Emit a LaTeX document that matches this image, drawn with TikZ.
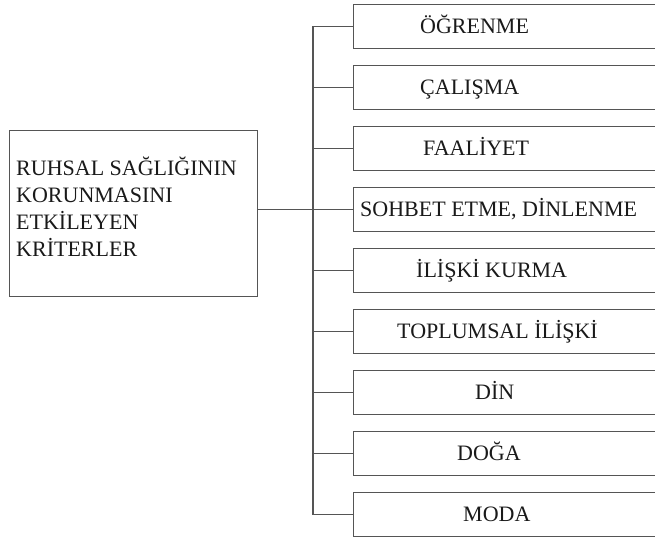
\documentclass[tikz,border=0pt]{standalone}
\usepackage{fontspec}
\setmainfont{Liberation Serif}
\definecolor{linec}{HTML}{555555}
\definecolor{textc}{HTML}{1A1A1A}
\begin{document}
\begin{tikzpicture}[x=1pt,y=-1pt,
  rbox/.style={draw=linec, line width=1.3pt, minimum width=320pt, minimum height=44pt, inner sep=0pt, anchor=north west},
  lbl/.style={text=textc, font=\fontsize{22}{27}\selectfont, inner sep=0pt, anchor=base west},
  bigbox/.style={draw=linec, line width=1.3pt, minimum width=248pt, minimum height=166pt, inner sep=0pt, anchor=north west},
  conn/.style={draw=linec, line width=1.3pt}]
\useasboundingbox (0,0) rectangle (655,540);
\clip (0,0) rectangle (655,540);
\fill[white] (0,0) rectangle (655,540);
\node[bigbox] (big) at (9,130) {};
\node[lbl, align=left, anchor=north west] (bigtext) at (16,157) {RUHSAL SAĞLIĞININ\\KORUNMASINI\\ETKİLEYEN\\KRİTERLER};
\foreach \i/\tx/\t in {1/420/ÖĞRENME, 2/420/ÇALIŞMA, 3/423/FAALİYET, 4/360/{SOHBET ETME, DİNLENME}, 5/416/İLİŞKİ KURMA, 6/397/TOPLUMSAL İLİŞKİ, 7/475/DİN, 8/457/DOĞA, 9/463/MODA}{
  \node[rbox] (b\i) at (353,{4+61*(\i-1)}) {};
  \node[lbl] (t\i) at (\tx,{4+61*(\i-1)+22+7.3}) {\t};
}
\draw[conn] (b1.west) -- ++(-40,0) coordinate (s1) |- (b9.west);
\foreach \i in {2,...,8}{
  \draw[conn] (b\i.west) -- (s1 |- b\i.west);
}
\draw[conn] (big.east |- b4.west) -- (b4.west);
\end{tikzpicture}
\end{document}
